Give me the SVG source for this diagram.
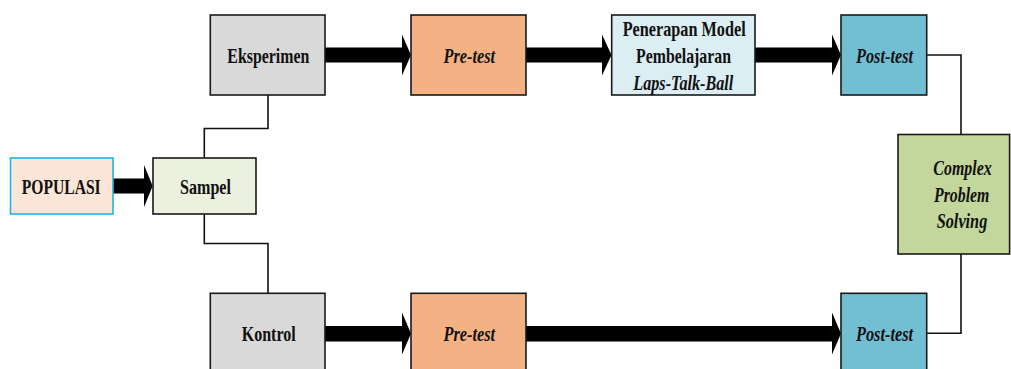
<svg xmlns="http://www.w3.org/2000/svg" width="1011" height="369" viewBox="0 0 1011 369">
<style>
.box{stroke:#1a1a1a;stroke-width:1.6}
.t{font-family:"Liberation Serif","Times New Roman",serif;font-weight:bold;font-size:22px;fill:#111}
.i{font-style:italic}
.m{text-anchor:middle}
.ln{fill:none;stroke:#111;stroke-width:1.6}
.ar{fill:#000}
</style>
<rect width="1011" height="369" fill="#fff"/>
<g id="connectors">
<polygon class="ar" points="113,178.5 144,178.5 144,165 152.7,186 144,207 144,193.5 113,193.5"/>
<polygon class="ar" points="325,47.5 402,47.5 402,34.5 411,55 402,75.5 402,62.5 325,62.5"/>
<polygon class="ar" points="526,47.5 602,47.5 602,34.5 611.5,55 602,75.5 602,62.5 526,62.5"/>
<polygon class="ar" points="755,47.5 832,47.5 832,34.5 841,55 832,75.5 832,62.5 755,62.5"/>
<polygon class="ar" points="325,326 402,326 402,312.5 411,333.5 402,354.5 402,341.5 325,341.5"/>
<polygon class="ar" points="526,326 832,326 832,312.5 841,333.5 832,354.5 832,341.5 526,341.5"/>
<polyline class="ln" points="268,95 268,128.5 204.3,128.5 204.3,158"/>
<polyline class="ln" points="204.3,214 204.3,243.5 268,243.5 268,293.3"/>
<polyline class="ln" points="926.7,55 961,55 961,134.5"/>
<polyline class="ln" points="961,254 961,333.3 926.7,333.3"/>
</g>
<g id="populasi">
<rect x="10.5" y="158" width="102.5" height="56" fill="#fbe5d6" stroke="#1fb4ec" stroke-width="1.6"/>
<text class="t" x="21.7" y="194" textLength="79" lengthAdjust="spacingAndGlyphs">POPULASI</text>
</g>
<g id="sampel">
<rect class="box" x="153" y="158" width="103" height="56" fill="#ebf1de"/>
<text class="t" x="180" y="194" textLength="51" lengthAdjust="spacingAndGlyphs">Sampel</text>
</g>
<g id="eksperimen">
<rect class="box" x="210.3" y="15" width="114.7" height="80" fill="#d9d9d9"/>
<text class="t" x="227.3" y="62.5" textLength="82" lengthAdjust="spacingAndGlyphs">Eksperimen</text>
</g>
<g id="pretest-eksperimen">
<rect class="box" x="411" y="15" width="115" height="80" fill="#f4b183"/>
<text class="t i" x="443.5" y="62.5" textLength="51.5" lengthAdjust="spacingAndGlyphs">Pre-test</text>
</g>
<g id="penerapan">
<rect class="box" x="611.7" y="15" width="143.3" height="80" fill="#dbeef4"/>
<text class="t" x="622.7" y="36" textLength="123" lengthAdjust="spacingAndGlyphs">Penerapan Model</text>
<text class="t" x="636" y="63" textLength="95" lengthAdjust="spacingAndGlyphs">Pembelajaran</text>
<text class="t i" x="633.3" y="89.5" textLength="100" lengthAdjust="spacingAndGlyphs">Laps-Talk-Ball</text>
</g>
<g id="posttest-eksperimen">
<rect class="box" x="841" y="15" width="85.7" height="80" fill="#72bfd4"/>
<text class="t i" x="856" y="62.5" textLength="57" lengthAdjust="spacingAndGlyphs">Post-test</text>
</g>
<g id="complex">
<rect class="box" x="898" y="134.5" width="111.6" height="119.5" fill="#c3d69b"/>
<text class="t i m" x="962.5" y="175" textLength="58.4" lengthAdjust="spacingAndGlyphs">Complex</text>
<text class="t i m" x="961.7" y="201.7" textLength="55.3" lengthAdjust="spacingAndGlyphs">Problem</text>
<text class="t i m" x="962" y="228.3" textLength="50.6" lengthAdjust="spacingAndGlyphs">Solving</text>
</g>
<g id="kontrol">
<rect class="box" x="210.3" y="293.3" width="114.7" height="80" fill="#d9d9d9"/>
<text class="t" x="241.7" y="340.7" textLength="54" lengthAdjust="spacingAndGlyphs">Kontrol</text>
</g>
<g id="pretest-kontrol">
<rect class="box" x="411" y="293.3" width="115" height="80" fill="#f4b183"/>
<text class="t i" x="443.5" y="340.7" textLength="51.5" lengthAdjust="spacingAndGlyphs">Pre-test</text>
</g>
<g id="posttest-kontrol">
<rect class="box" x="841" y="293.3" width="85.7" height="80" fill="#72bfd4"/>
<text class="t i" x="856" y="340.7" textLength="57" lengthAdjust="spacingAndGlyphs">Post-test</text>
</g>
</svg>
